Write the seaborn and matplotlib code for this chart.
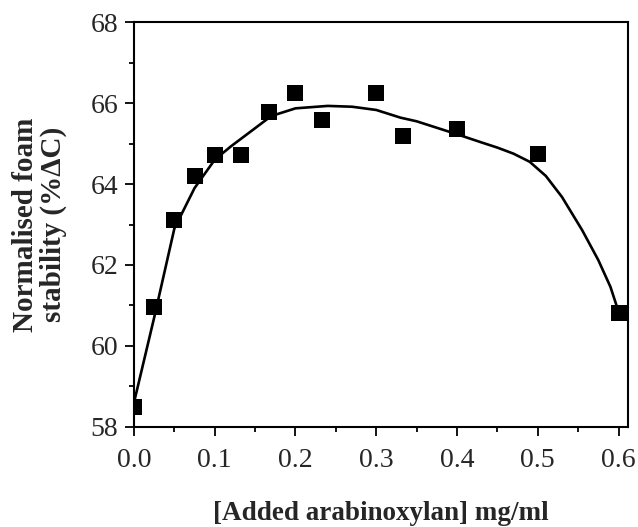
import matplotlib
matplotlib.use("Agg")
import matplotlib.pyplot as plt
from matplotlib.ticker import MultipleLocator
import seaborn as sns
import pandas as pd

# measured points
conc = [0.0, 0.025, 0.05, 0.075, 0.1, 0.133, 0.167, 0.2, 0.233, 0.3, 0.333, 0.4, 0.5, 0.6]
stability = [58.5, 60.95, 63.1, 64.2, 64.72, 64.72, 65.78, 66.25, 65.57, 66.25, 65.19, 65.36, 64.74, 60.81]

# fitted curve
curve_x = [0.0, 0.025, 0.05, 0.06, 0.075, 0.1, 0.12, 0.15, 0.17, 0.2, 0.24, 0.27, 0.3,
           0.33, 0.35, 0.4, 0.43, 0.45, 0.47, 0.49, 0.51, 0.53, 0.555, 0.575, 0.59, 0.6]
curve_y = [58.6, 60.7, 62.9, 63.3, 63.9, 64.6, 64.93, 65.38, 65.68, 65.87, 65.93, 65.91, 65.83,
           65.64, 65.55, 65.23, 65.03, 64.9, 64.75, 64.55, 64.2, 63.68, 62.86, 62.12, 61.46, 60.85]

pts = pd.DataFrame({"x": conc, "y": stability})
fit = pd.DataFrame({"x": curve_x, "y": curve_y})

sns.set_style("ticks")
plt.rcParams["font.family"] = ["Liberation Serif", "DejaVu Serif"]

fig = plt.figure(figsize=(6.38, 5.27), dpi=100)
ax = fig.add_axes([0.21, 0.19, 0.774, 0.768])

sns.lineplot(data=fit, x="x", y="y", ax=ax, color="black", linewidth=1.9, sort=False)
sns.scatterplot(data=pts, x="x", y="y", ax=ax, marker="s", color="black", s=130,
                edgecolor="black", linewidth=0, zorder=3)

ax.set_xlim(0, 0.6115)
ax.set_ylim(58, 68)
ax.xaxis.set_minor_locator(MultipleLocator(0.05))
ax.yaxis.set_major_locator(MultipleLocator(2))
ax.yaxis.set_minor_locator(MultipleLocator(1))
ax.set_xticks([0, 0.1, 0.2, 0.3, 0.4, 0.5, 0.6])
ax.set_xticklabels(["0.0", "0.1", "0.2", "0.3", "0.4", "0.5", "0.6"])

ax.tick_params(which="major", direction="out", length=6.5, width=1.3, labelsize=20, color="black")
ax.tick_params(axis="x", which="major", pad=9)
ax.tick_params(axis="y", which="major", pad=5)
ax.tick_params(which="minor", direction="out", length=3.6, width=1.3, color="black")
ax.tick_params(top=False, right=False, which="both")

for side in ["left", "right", "top", "bottom"]:
    ax.spines[side].set_visible(True)
    ax.spines[side].set_linewidth(1.5)
    ax.spines[side].set_color("black")

ax.set_xlabel("[Added arabinoxylan] mg/ml", fontsize=19.5, fontweight="bold", labelpad=20)
ax.set_ylabel("Normalised foam\nstability (%ΔC)", fontsize=21, fontweight="bold",
              labelpad=17, linespacing=1.0)

fig.savefig("out.png", dpi=100)
